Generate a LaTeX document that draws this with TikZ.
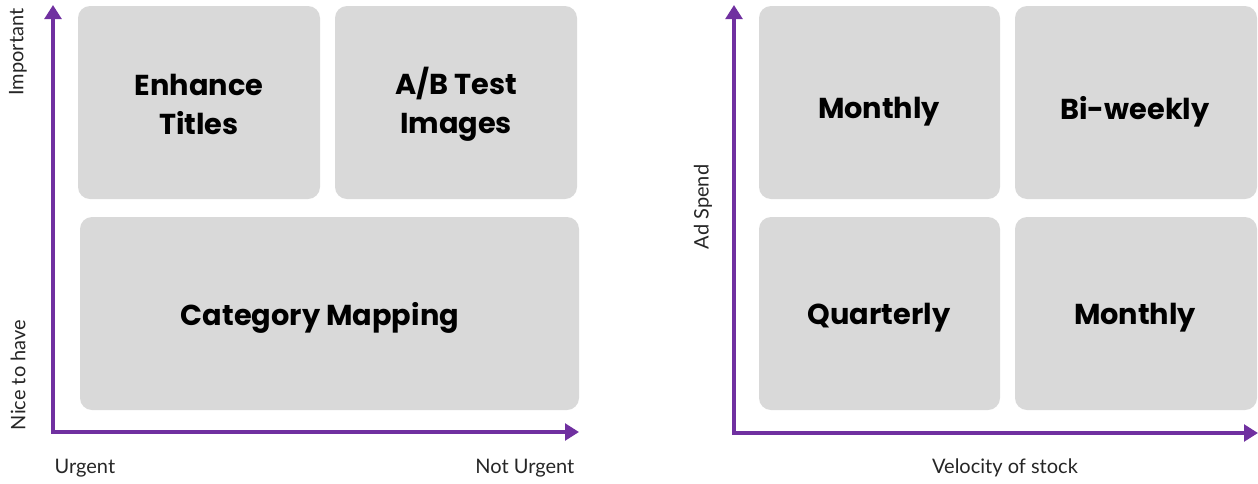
\documentclass[tikz,border=0pt]{standalone}
\usepackage{fontspec}
\setmainfont{Lato}
\newfontfamily\boxfont{Poppins}
\usetikzlibrary{arrows.meta}
\definecolor{axispurple}{HTML}{7030A0}
\definecolor{cellgray}{HTML}{D9D9D9}
\tikzset{
  cell/.style={fill=cellgray, rounded corners=9pt, draw=none},
  celltext/.style={font=\boxfont\bfseries\fontsize{21.6}{29}\selectfont, align=center, text=black},
  axisline/.style={draw=axispurple, line width=2.5pt, -{Triangle[length=10.5pt,width=12.5pt]}},
  axislabel/.style={font=\fontsize{15}{18}\selectfont, text=black!85}
}
\begin{document}
\begin{tikzpicture}[x=0.75pt,y=-0.75pt]
\useasboundingbox (0,0) rectangle (1258,483);

% ---- priority matrix ----
\coordinate (o1) at (53,432);
\coordinate (ytop1) at (53,5);
\coordinate (xend1) at (579,432);
\draw[axisline] ([yshift=-1.25pt]o1) -- (ytop1);
\draw[axisline] ([xshift=-1.25pt]o1) -- (xend1);

\fill[cell] (78,6) rectangle (320,199);
\node[celltext] (enh) at (199,104.5) {Enhance\\Titles};
\fill[cell] (335,6) rectangle (577,199);
\node[celltext] (ab) at (456,104.5) {A/B Test\\Images};
\fill[cell] (80,217) rectangle (579,410);
\node[celltext] (cat) at (320,318) {Category Mapping};

\node[axislabel, rotate=90] (imp) at (18,52) {Important};
\node[axislabel, rotate=90] (nice) at (18,375) {Nice to have};
\node[axislabel, anchor=west] (urg) at (50,468) {Urgent};
\node[axislabel, anchor=east] (nurg) at (579,468) {Not Urgent};

% ---- review cadence matrix ----
\coordinate (o2) at (734,433);
\coordinate (ytop2) at (734,5);
\coordinate (xend2) at (1258,433);
\draw[axisline] ([yshift=-1.25pt]o2) -- (ytop2);
\draw[axisline] ([xshift=-1.25pt]o2) -- (xend2);

\fill[cell] (759,6) rectangle (1000,199);
\node[celltext] (m1) at (879,112) {Monthly};
\fill[cell] (1015,6) rectangle (1257,199);
\node[celltext] (bw) at (1135,112) {Bi-weekly};
\fill[cell] (759,217) rectangle (1000,410);
\node[celltext] (q) at (879,318) {Quarterly};
\fill[cell] (1015,217) rectangle (1257,410);
\node[celltext] (m2) at (1135,318) {Monthly};

\node[axislabel, rotate=90] (ads) at (703,207) {Ad Spend};
\node[axislabel] (vel) at (1005,468) {Velocity of stock};
\end{tikzpicture}
\end{document}
